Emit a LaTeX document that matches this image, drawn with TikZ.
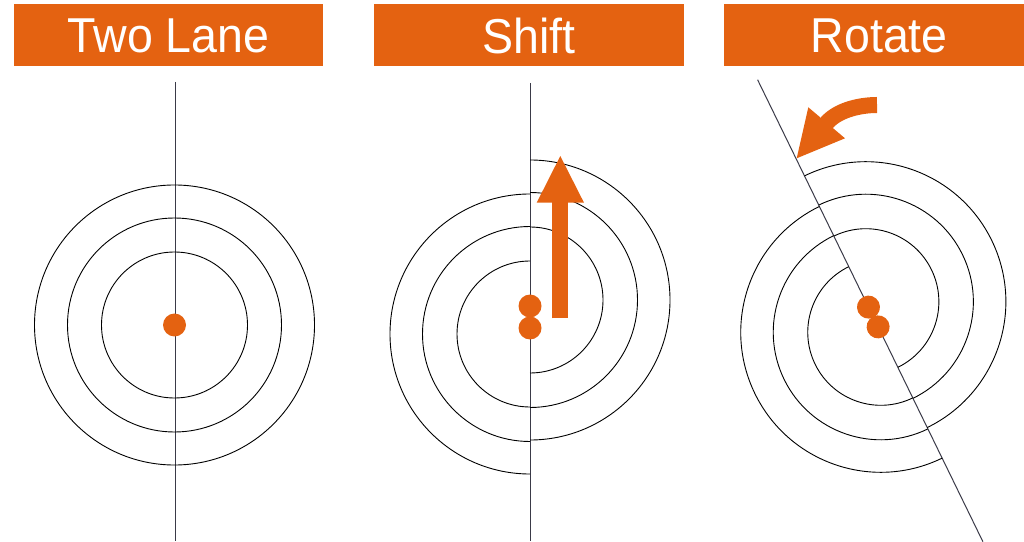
\documentclass[tikz,border=0pt]{standalone}
\usepackage{fontspec}
\newfontfamily\titlefont[FakeStretch=0.95]{Liberation Sans}
\usepackage{tikz}
\usetikzlibrary{arrows.meta,positioning,calc}
\definecolor{laneOrange}{HTML}{E46211}
\definecolor{laneGray}{HTML}{3A3A48}

\begin{document}
\begin{tikzpicture}[x=1pt,y=1pt,
  titlebox/.style={fill=laneOrange,text=white,inner sep=0pt,
    minimum width=309.6pt,minimum height=62pt,
    font=\titlefont\fontsize{49}{52}\selectfont},
  lane/.style={draw=laneGray,line width=1pt},
  ring/.style={draw=black,line width=0.9pt},
  car/.style={fill=laneOrange}]
\useasboundingbox (0,0) rectangle (1024,541);
\clip (0,0) rectangle (1024,541);
% headings
\node[titlebox] (tlane) at (168.5,505.5) {Two Lane};
\node[titlebox] (tshift) at (529.2,505.5) {Shift};
\node[titlebox] (trot) at (879.2,505.5) {Rotate};
% two lane: full rings round one centre
\draw[lane] (175,459) -- (175,0);
\foreach \r in {73,107,140}
  \draw[ring] (174.5,216) circle[radius=\r pt];
\fill[car] (174.5,216) circle[radius=11.5pt];
% shift: right halves moved up
\begin{scope}[shift={(530,224)}]
\draw[lane] (0,234) -- (0,-224);
\foreach \r in {73,107.5,140} {
  \draw[ring] (0,17) ++(90:\r) arc[start angle=90,end angle=-90,radius=\r pt];
  \draw[ring] (0,-17) ++(90:\r) arc[start angle=90,end angle=270,radius=\r pt];
}
\fill[car] (0,11) circle[radius=11.5pt];
\fill[car] (0,-11) circle[radius=11.5pt];
\end{scope}
\draw[laneOrange,line width=16pt] (560.3,222.7) -- (560.3,340);
\fill[laneOrange] (536.7,338.3) -- (584,338.3) -- (560.3,385) -- cycle;
% rotate: the shifted rings turned
\begin{scope}[shift={(873.3,224)},rotate=26]
\draw[lane] (0,264) -- (0,-250);
\foreach \r in {73,107.5,140} {
  \draw[ring] (0,17) ++(90:\r) arc[start angle=90,end angle=-90,radius=\r pt];
  \draw[ring] (0,-17) ++(90:\r) arc[start angle=90,end angle=270,radius=\r pt];
}
\fill[car] (0,11) circle[radius=11.5pt];
\fill[car] (0,-11) circle[radius=11.5pt];
\end{scope}
\draw[laneOrange,line width=16pt] (877,436) .. controls (862,436) and (839,432) .. (826.7,418.2) -- (822,424);
\fill[laneOrange] (808.3,433.7) -- (845,402.7) -- (796.7,382.7) -- cycle;
\end{tikzpicture}
\end{document}
